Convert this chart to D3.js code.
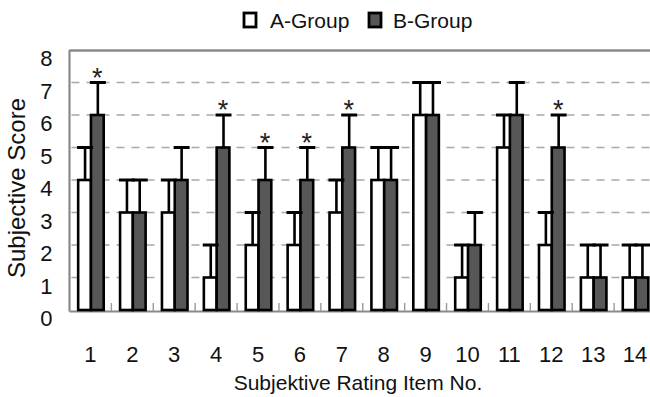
<!DOCTYPE html>
<html>
<head>
<meta charset="utf-8">
<script src="https://cdn.jsdelivr.net/npm/d3@7"></script>
<style>
  html, body { margin: 0; padding: 0; background: #fff; }
  svg { display: block; }
  svg text { font-family: "Liberation Sans", Arial, Helvetica, sans-serif; }
</style>
</head>
<body>
<svg id="chart" width="650" height="397"></svg>
<script>
// Rating items and mean scores per group, with upper error extents
const categories = ["1","2","3","4","5","6","7","8","9","10","11","12","13","14"];
const groupA = [4, 3, 3, 1, 2, 2, 3, 4, 6, 1, 5, 2, 1, 1];
const groupB = [6, 3, 4, 5, 4, 4, 5, 4, 6, 2, 6, 5, 1, 1];
const errA   = [1, 1, 1, 1, 1, 1, 1, 1, 1, 1, 1, 1, 1, 1];
const errB   = [1, 1, 1, 1, 1, 1, 1, 1, 1, 1, 1, 1, 1, 1];
const significant = ["1", "4", "5", "6", "7", "12"];
const seriesNames = ["A-Group", "B-Group"];
const yTicks = [0, 1, 2, 3, 4, 5, 6, 7, 8];

const fills = { "A-Group": "#ffffff", "B-Group": "#575757" };
const FONT = "'Liberation Sans', Arial, Helvetica, sans-serif";

const svg = d3.select("#chart");
const plotLeft = 69.5, plotRight = 656, plotTop = 50, plotBottom = 310;

const x = d3.scaleBand().domain(categories).range([plotLeft, plotRight]).paddingInner(0).paddingOuter(0);
const xi = d3.scaleBand().domain(seriesNames).range([0.5, x.bandwidth() + 0.5]).paddingInner(0).paddingOuter(0.64);
const y = d3.scaleLinear().domain([0, 8]).range([plotBottom, plotTop]);

// dashed horizontal grid
svg.append("g").selectAll("line")
  .data(yTicks.filter(t => t > 0 && t < 8))
  .join("line")
  .attr("x1", plotLeft + 2).attr("x2", plotRight)
  .attr("y1", d => y(d)).attr("y2", d => y(d))
  .attr("stroke", "#a8a8a8").attr("stroke-width", 1.6)
  .attr("stroke-dasharray", "8,7");

// plot frame (left, top) and base axis
const frame = svg.append("g").attr("stroke", "#8a8a8a").attr("fill", "none");
frame.append("line").attr("x1", plotLeft).attr("x2", plotLeft).attr("y1", plotTop).attr("y2", plotBottom + 1.5).attr("stroke-width", 2.2);
frame.append("line").attr("x1", plotLeft).attr("x2", plotRight).attr("y1", plotTop + 0.5).attr("y2", plotTop + 0.5).attr("stroke-width", 2.6);
frame.append("line").attr("x1", plotLeft).attr("x2", plotRight).attr("y1", plotBottom + 1.5).attr("y2", plotBottom + 1.5).attr("stroke-width", 2);

// small ticks between items
svg.append("g").selectAll("line")
  .data(categories.slice(1))
  .join("line")
  .attr("x1", d => x(d)).attr("x2", d => x(d))
  .attr("y1", plotBottom + 1).attr("y2", plotBottom - 7)
  .attr("stroke", "#9a9a9a").attr("stroke-width", 1.4);

// assemble rows
const rows = categories.map((c, i) => ({
  cat: c,
  bars: [
    { name: "A-Group", value: groupA[i], err: errA[i] },
    { name: "B-Group", value: groupB[i], err: errB[i] }
  ]
}));

const groups = svg.append("g").selectAll("g")
  .data(rows)
  .join("g")
  .attr("transform", d => `translate(${x(d.cat)},0)`);

groups.selectAll("rect")
  .data(d => d.bars)
  .join("rect")
  .attr("x", d => xi(d.name))
  .attr("width", xi.bandwidth())
  .attr("y", d => y(d.value))
  .attr("height", d => y(0) - y(d.value))
  .attr("fill", d => fills[d.name])
  .attr("stroke", "#000")
  .attr("stroke-width", 2.6);

// error bars (upper only)
const capW = 16;
groups.selectAll("g.err")
  .data(d => d.bars)
  .join("g")
  .attr("class", "err")
  .each(function(d) {
    const g = d3.select(this);
    const cx = xi(d.name) + xi.bandwidth() / 2 + 0.5;
    g.append("line")
      .attr("x1", cx).attr("x2", cx)
      .attr("y1", y(d.value)).attr("y2", y(d.value + d.err))
      .attr("stroke", "#000").attr("stroke-width", 2.6);
    g.append("line")
      .attr("x1", cx - capW / 2).attr("x2", cx + capW / 2)
      .attr("y1", y(d.value + d.err)).attr("y2", y(d.value + d.err))
      .attr("stroke", "#000").attr("stroke-width", 3);
  });

// significance markers above B-Group
groups.filter(d => significant.includes(d.cat))
  .append("text")
  .attr("x", d => xi("B-Group") + xi.bandwidth() / 2)
  .attr("y", d => y(d.bars[1].value + d.bars[1].err) + 4)
  .attr("text-anchor", "middle")
  .attr("font-size", 27)
  .attr("font-family", FONT)
  .attr("fill", "#222")
  .text("*");

// y axis labels
const yAxis = svg.append("g")
  .attr("transform", `translate(${plotLeft},0)`)
  .call(d3.axisLeft(y).tickValues(yTicks).tickSize(0).tickPadding(17).tickFormat(d3.format("d")));
yAxis.select(".domain").remove();
yAxis.selectAll("text")
  .attr("font-size", 22).attr("font-family", FONT)
  .attr("fill", "#111").attr("dy", "0.72em");

// x axis labels
const xAxis = svg.append("g")
  .attr("transform", `translate(0,${plotBottom + 1})`)
  .call(d3.axisBottom(x).tickSize(0).tickPadding(35));
xAxis.select(".domain").remove();
xAxis.selectAll("text")
  .attr("font-size", 22).attr("font-family", FONT)
  .attr("fill", "#111");

// axis titles
svg.append("text")
  .attr("x", 358).attr("y", 390)
  .attr("text-anchor", "middle")
  .attr("font-size", 21).attr("font-family", FONT).attr("fill", "#111")
  .text("Subjektive Rating Item No.");

svg.append("text")
  .attr("transform", "translate(25,188) rotate(-90)")
  .attr("text-anchor", "middle")
  .attr("font-size", 24).attr("font-family", FONT).attr("fill", "#111")
  .text("Subjective Score");

// legend
const legend = svg.append("g");
const legendX = [244, 369];
const legendTextX = [270, 393];
seriesNames.forEach((name, i) => {
  legend.append("rect")
    .attr("x", legendX[i]).attr("y", 13)
    .attr("width", 12).attr("height", 14)
    .attr("fill", fills[name]).attr("stroke", "#000").attr("stroke-width", 2.8);
  legend.append("text")
    .attr("x", legendTextX[i]).attr("y", 28)
    .attr("font-size", 21).attr("font-family", FONT).attr("fill", "#111")
    .text(name);
});
</script>
</body>
</html>
